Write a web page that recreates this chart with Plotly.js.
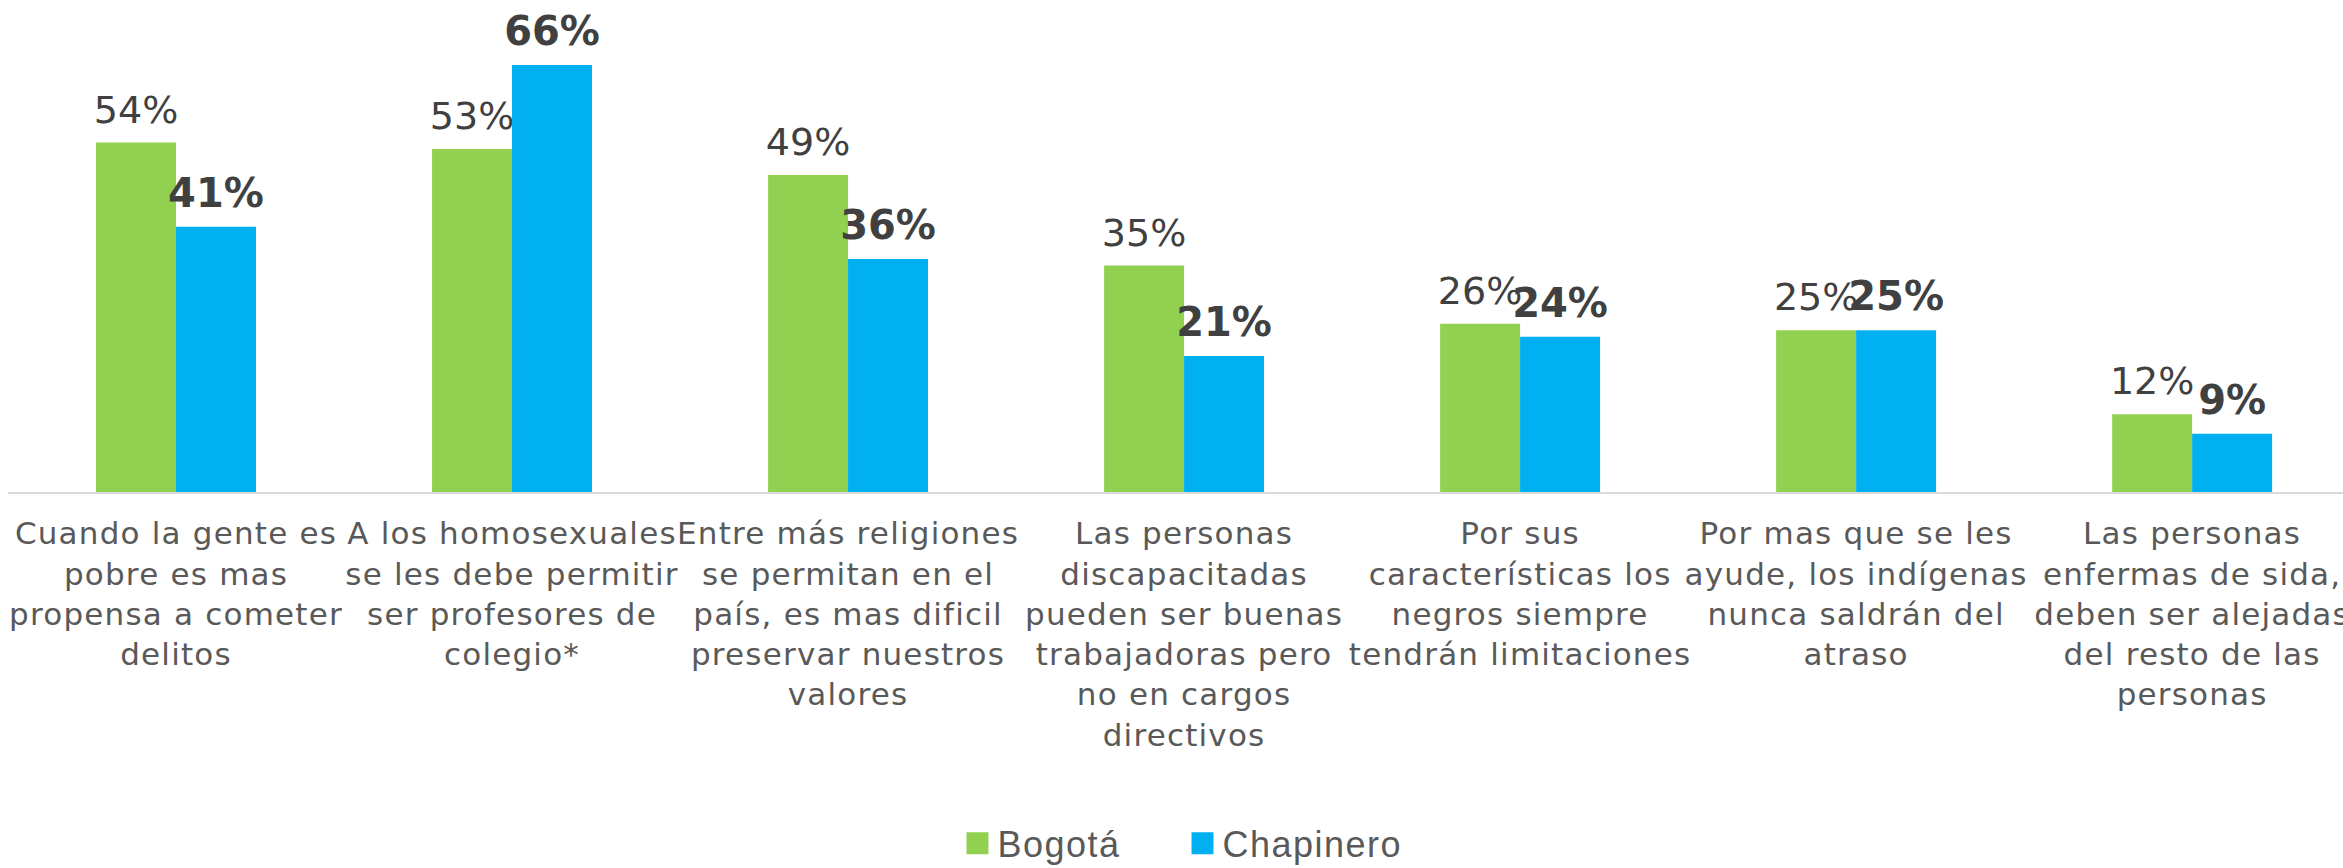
<!DOCTYPE html>
<html>
<head>
<meta charset="utf-8">
<script src="https://cdn.plot.ly/plotly-3.0.1.min.js"></script>
<style>
html,body{margin:0;padding:0;background:#fff;}
#chart{width:2343px;height:868px;}
.xtick text{letter-spacing:1.2px;}
.legendtext{letter-spacing:1.5px;}
#chart .legendpoints path{transform:translate(20px,0) scale(1.83);}
#chart .bartext{translate:0px -8px;}
</style>
</head>
<body>
<div id="chart"></div>
<script>
var categories = [
  "Cuando la gente es<br>pobre es mas<br>propensa a cometer<br>delitos",
  "A los homosexuales<br>se les debe permitir<br>ser profesores de<br>colegio*",
  "Entre más religiones<br>se permitan en el<br>país, es mas dificil<br>preservar nuestros<br>valores",
  "Las personas<br>discapacitadas<br>pueden ser buenas<br>trabajadoras pero<br>no en cargos<br>directivos",
  "Por sus<br>características los<br>negros siempre<br>tendrán limitaciones",
  "Por mas que se les<br>ayude, los indígenas<br>nunca saldrán del<br>atraso",
  "Las personas<br>enfermas de sida,<br>deben ser alejadas<br>del resto de las<br>personas"
];
var bogota = [54, 53, 49, 35, 26, 25, 12];
var chapinero = [41, 66, 36, 21, 24, 25, 9];
var seriesNames = ["Bogotá", "Chapinero"];

var xIdx = categories.map(function(_, i){ return i; });

var traces = [
  {
    type: "bar", name: seriesNames[0], x: xIdx, y: bogota,
    marker: {color: "#92D050"},
    text: bogota.map(function(v){ return v + "%"; }),
    texttemplate: "%{text}",
    textposition: "outside", constraintext: "none", cliponaxis: false,
    textfont: {family: "DejaVu Sans", size: 38, color: "#404040"},
    hoverinfo: "skip"
  },
  {
    type: "bar", name: seriesNames[1], x: xIdx, y: chapinero,
    marker: {color: "#00B0F0"},
    text: chapinero.map(function(v){ return v + "%"; }),
    texttemplate: "<b>%{text}</b>",
    textposition: "outside", constraintext: "none", cliponaxis: false,
    textfont: {family: "DejaVu Sans", size: 40, color: "#404040"},
    hoverinfo: "skip"
  }
];

var layout = {
  width: 2343, height: 868,
  margin: {l: 8, r: 0, t: 0, b: 376, pad: 0, autoexpand: false},
  paper_bgcolor: "#ffffff", plot_bgcolor: "#ffffff",
  barmode: "group", bargap: 0.524, bargroupgap: 0,
  showlegend: true,
  legend: {
    orientation: "h", x: 0.503, xanchor: "center", y: -0.653, yanchor: "top",
    font: {family: "Liberation Sans", size: 36, color: "#595959"},
    itemwidth: 30, traceorder: "normal",
    entrywidth: 180, entrywidthmode: "pixels"
  },
  xaxis: {
    range: [-0.5, 6.449],
    tickmode: "array", tickvals: xIdx, ticktext: categories,
    tickfont: {family: "DejaVu Sans", size: 31, color: "#595959"},
    ticklabelstandoff: 13, ticklabeloverflow: "allow",
    showline: true, linecolor: "#D9D9D9", linewidth: 2,
    showgrid: false, zeroline: false, ticks: "", tickangle: 0,
    automargin: false, fixedrange: true
  },
  yaxis: {
    range: [0, 76.04], visible: false, showgrid: false, zeroline: false,
    fixedrange: true
  }
};

Plotly.newPlot("chart", traces, layout, {displayModeBar: false, staticPlot: true});
</script>
</body>
</html>
